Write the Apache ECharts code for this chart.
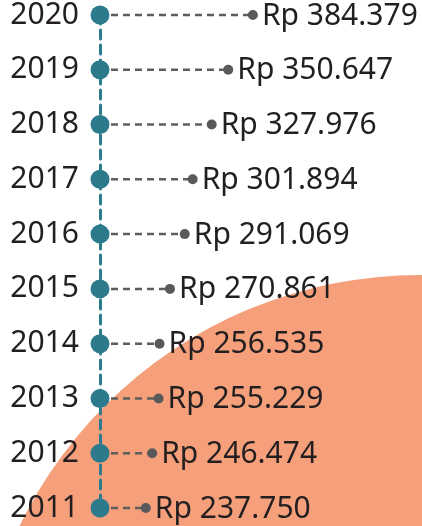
<!DOCTYPE html>
<html>
<head>
<meta charset="utf-8">
<script src="https://cdn.jsdelivr.net/npm/echarts@6/dist/echarts.min.js"></script>
<style>
  html, body { margin: 0; padding: 0; background: #fff; }
  #main { width: 422px; height: 526px; }
</style>
</head>
<body>
<div id="main"></div>
<script>
// years top to bottom, and the value (Rupiah) for each
var years = ['2020', '2019', '2018', '2017', '2016', '2015', '2014', '2013', '2012', '2011'];
var values = [384379, 350647, 327976, 301894, 291069, 270861, 256535, 255229, 246474, 237750];

var teal = '#2c7b8d';
var xMin = 175000;

function rupiah(v) {
  return 'Rp ' + String(v).replace(/\B(?=(\d{3})+(?!\d))/g, '.');
}

var myChart = echarts.init(document.getElementById('main'));

var option = {
  animation: false,
  graphic: [
    {
      // big salmon disc in the background
      type: 'circle',
      z: -10,
      silent: true,
      shape: { cx: 420, cy: 720, r: 445 },
      style: { fill: '#f5a07a' }
    }
  ],
  grid: { left: 100, right: 0, top: 14, bottom: 18 },
  xAxis: {
    type: 'value',
    min: xMin,
    max: 616000,
    show: false
  },
  yAxis: {
    type: 'category',
    data: years,
    inverse: true,
    boundaryGap: false,
    axisTick: { show: false },
    splitLine: { show: false },
    axisLine: {
      show: true,
      lineStyle: { color: teal, width: 3, type: [9, 6] }
    },
    axisLabel: {
      margin: 21,
      fontSize: 30,
      fontFamily: 'Noto Sans',
      color: '#231f20'
    }
  },
  series: [
    {
      type: 'custom',
      clip: false,
      data: values.map(function (v, i) { return [v, i]; }),
      encode: { x: 0, y: 1 },
      renderItem: function (params, api) {
        var end = api.coord([api.value(0), api.value(1)]);
        var start = api.coord([xMin, api.value(1)]);
        return {
          type: 'group',
          children: [
            {
              type: 'line',
              shape: { x1: start[0] + 11, y1: start[1], x2: end[0] - 4, y2: end[1] },
              style: { stroke: '#5e5e5e', lineWidth: 2.5, lineDash: [7, 5] }
            },
            {
              type: 'circle',
              shape: { cx: end[0], cy: end[1], r: 5 },
              style: { fill: '#58595b' }
            },
            {
              type: 'circle',
              shape: { cx: start[0], cy: start[1], r: 9.5 },
              style: { fill: teal }
            },
            {
              type: 'text',
              x: end[0] + 9,
              y: end[1] + 1,
              style: {
                text: rupiah(values[params.dataIndex]),
                fill: '#231f20',
                fontSize: 30,
                fontFamily: 'Noto Sans',
                verticalAlign: 'middle',
                align: 'left'
              }
            }
          ]
        };
      }
    }
  ]
};

myChart.setOption(option);
</script>
</body>
</html>
